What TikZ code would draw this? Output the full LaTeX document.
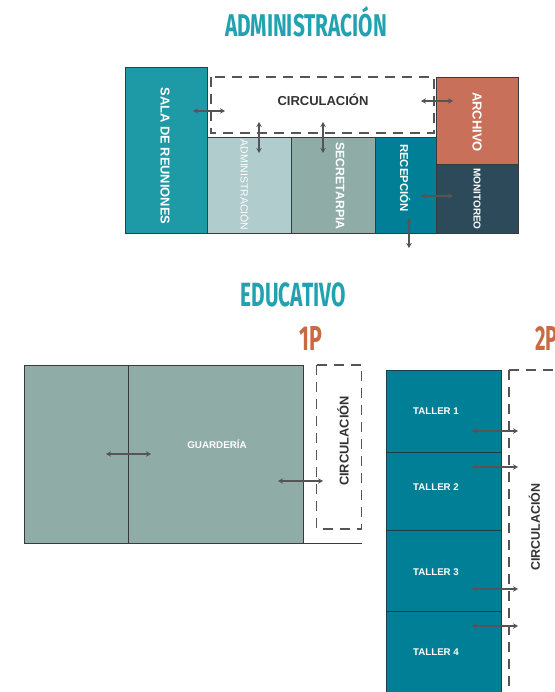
\documentclass[tikz,border=0pt]{standalone}
\usepackage{fontspec}
\setmainfont{Liberation Sans}
\newfontfamily\titlefont{Fira Sans}
\usetikzlibrary{arrows.meta}
\definecolor{tealA}{HTML}{1E9AA6}
\definecolor{admLight}{HTML}{B0CCCC}
\definecolor{sage}{HTML}{8FADA6}
\definecolor{tealB}{HTML}{007F96}
\definecolor{archC}{HTML}{C9705A}
\definecolor{monC}{HTML}{2C4A5A}
\definecolor{titleC}{HTML}{22A2B0}
\definecolor{orangeC}{HTML}{C96A45}
\definecolor{arrowC}{HTML}{555555}
\definecolor{lineC}{HTML}{3A3A3A}
\definecolor{circC}{HTML}{333333}
\definecolor{tallerLine}{HTML}{1C3D47}
\begin{document}
\begin{tikzpicture}[x=1pt,y=-1pt,
  room/.style={draw=lineC, line width=0.8pt, inner sep=0pt, outer sep=0pt, anchor=north west},
  circbox/.style={draw=arrowC, line width=1.6pt, dash pattern=on 10pt off 7pt},
  lbl/.style={text=white, inner sep=0pt, font=\bfseries\fontsize{#1}{#1}\selectfont},
  clbl/.style={text=circC, inner sep=0pt, font=\bfseries\fontsize{#1}{#1}\selectfont},
  dbl/.style={{Stealth[length=5pt,width=5.5pt]}-{Stealth[length=5pt,width=5.5pt]}, draw=arrowC, line width=1.2pt},
  ttl/.style={inner sep=0pt, text=titleC, font=\titlefont\bfseries},
  ptl/.style={inner sep=0pt, text=orangeC, font=\titlefont\bfseries}]
\useasboundingbox (0,0) rectangle (554,692);
\clip (0,0) rectangle (554,692);
\fill[white] (0,0) rectangle (554,692);

% ---------- ADMINISTRACION ----------
\node[ttl] (tadm) at (306,21.7) {\resizebox*{162pt}{30.6pt}{ADMINISTRACIÓN}};

\node[room, fill=tealA, minimum width=82pt, minimum height=166pt] (sala) at (125,67) {};
\node[room, fill=admLight, minimum width=84pt, minimum height=96pt] (adm) at (207,137) {};
\node[room, fill=sage, minimum width=84pt, minimum height=96pt] (sec) at (291,137) {};
\node[room, fill=tealB, minimum width=61pt, minimum height=96pt] (rec) at (375,137) {};
\node[room, fill=archC, minimum width=82pt, minimum height=87pt] (arch) at (436,77) {};
\node[room, fill=monC, minimum width=82pt, minimum height=69pt] (mon) at (436,164) {};
\draw[circbox] (211,77) rectangle (434,133);

\node[clbl=13, anchor=center] (circAtxt) at (323,100) {CIRCULACIÓN};
\node[lbl=12.9, rotate=-90] (salatxt) at (165,156) {SALA DE REUNIONES};
\node[text=white, inner sep=0pt, font=\fontsize{10.4}{10}\selectfont, rotate=-90] (admtxt) at (245,185) {ADMINISTRACIÓN};
\node[lbl=12.3, rotate=-90] (sectxt) at (340,186) {SECRETARPIA};
\node[lbl=11.4, rotate=-90] (rectxt) at (405,178) {RECEPCIÓN};
\node[lbl=13, rotate=-90] (archtxt) at (477,122) {ARCHIVO};
\node[lbl=10, rotate=-90] (montxt) at (477,199) {MONITOREO};

\draw[dbl] (193,111) coordinate (a1s) -- (225,111) coordinate (a1e);
\draw[dbl] (259,122) coordinate (a2s) -- (259,153) coordinate (a2e);
\draw[dbl] (323,122) coordinate (a3s) -- (323,153) coordinate (a3e);
\draw[dbl] (421,101) coordinate (a4s) -- (453,101) coordinate (a4e);
\draw[dbl] (421,196) coordinate (a5s) -- (453,196) coordinate (a5e);
\draw[dbl] (409,218) coordinate (a6s) -- (409,248) coordinate (a6e);

% ---------- EDUCATIVO ----------
\node[ttl] (tedu) at (293.3,294.5) {\resizebox*{105pt}{24.4pt}{EDUCATIVO}};
\node[ptl] (t1p) at (311.3,338) {\resizebox*{22.7pt}{24pt}{1P}};
\node[ptl, anchor=west] (t2p) at (535,338) {\resizebox*{22.7pt}{24pt}{2P}};

% 1P
\node[room, fill=sage, minimum width=104pt, minimum height=178pt] (guarA) at (24,365) {};
\node[room, fill=sage, minimum width=175pt, minimum height=178pt] (guarB) at (128,365) {};
\draw[lineC, line width=1pt] (guarB.south east) -- ++(59,0) coordinate (guarEnd);
\draw[circbox] (316.5,365) rectangle (361.5,529);
\node[lbl=9.8] (guartxt) at (217,444) {GUARDERÍA};
\node[clbl=12.8, rotate=90] (circBtxt) at (343,441) {CIRCULACIÓN};
\draw[dbl] (106,454) coordinate (e1s) -- (151,454) coordinate (e1e);
\draw[dbl] (278,481) coordinate (e2s) -- (323,481) coordinate (e2e);

% 2P
\tikzset{taller/.style={room, fill=tealB, draw=tallerLine, minimum width=115pt}}
\node[taller, minimum height=82pt] (tall1) at (386,370) {};
\node[taller, minimum height=78pt] (tall2) at (386,452) {};
\node[taller, minimum height=81pt] (tall3) at (386,530) {};
\node[taller, minimum height=95pt] (tall4) at (386,611) {};
\draw[circbox] (509,370) rectangle (640,720);
\node[lbl=9.7] (tl1) at (436,411) {TALLER 1};
\node[lbl=9.7] (tl2) at (436,487.5) {TALLER 2};
\node[lbl=9.7] (tl3) at (436,572.5) {TALLER 3};
\node[lbl=9.7] (tl4) at (436,652) {TALLER 4};
\node[clbl=12.5, rotate=90] (circCtxt) at (534.5,527) {CIRCULACIÓN};
\draw[dbl] (472,431) coordinate (t1s) -- (518,431) coordinate (t1e);
\draw[dbl] (472,467) coordinate (t2s) -- (518,467) coordinate (t2e);
\draw[dbl] (472,589) coordinate (t3s) -- (518,589) coordinate (t3e);
\draw[dbl] (472,626) coordinate (t4s) -- (518,626) coordinate (t4e);
\end{tikzpicture}
\end{document}
